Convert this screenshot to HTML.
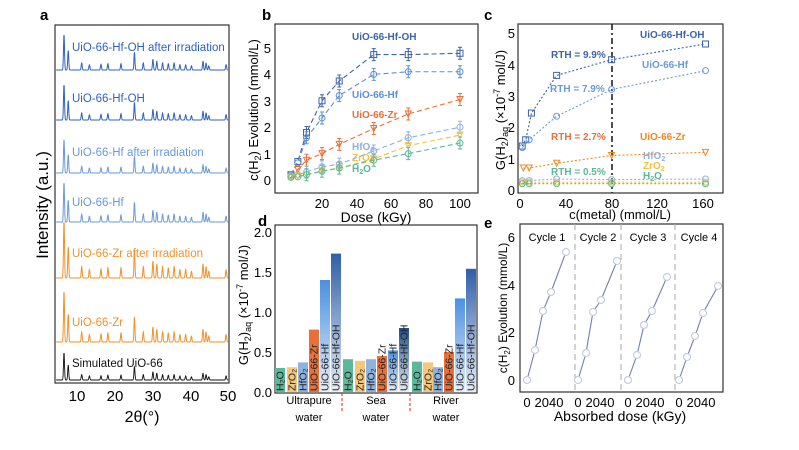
<!DOCTYPE html>
<html><head><meta charset="utf-8"><style>
body{margin:0;background:#fff}
svg{display:block;font-family:"Liberation Sans",Arial,sans-serif}
</style></head><body>
<svg id="s" width="799" height="450" viewBox="0 0 799 450" xmlns="http://www.w3.org/2000/svg">
<rect width="799" height="450" fill="#fff"/>
<g id="a"></g>
<!-- panel a -->
<text x="40" y="20" font-size="15" font-weight="bold">a</text>
<rect x="55" y="25" width="174" height="358" fill="none" stroke="#333" stroke-width="1.2"/>
<g font-size="15" text-anchor="middle"><text x="77" y="401">10</text><text x="115" y="401">20</text><text x="153" y="401">30</text><text x="191" y="401">40</text><text x="228" y="401">50</text></g>
<text x="142" y="422" font-size="16" text-anchor="middle">2θ(°)</text>
<text transform="translate(48,205) rotate(-90)" font-size="17" text-anchor="middle">Intensity (a.u.)</text>
<g font-size="11.5">
<text x="72" y="51" fill="#2f62c0">UiO-66-Hf-OH after irradiation</text>
<text x="72" y="102" fill="#2f62c0">UiO-66-Hf-OH</text>
<text x="72" y="156" fill="#6a9ad8">UiO-66-Hf after irradiation</text>
<text x="72" y="206" fill="#6a9ad8">UiO-66-Hf</text>
<text x="72" y="257" fill="#f0922a">UiO-66-Zr after irradiation</text>
<text x="72" y="326" fill="#f0922a">UiO-66-Zr</text>
<text x="72" y="367" fill="#111">Simulated UiO-66</text>
</g>
<!-- panel b -->
<text x="262" y="20" font-size="15" font-weight="bold">b</text>
<rect x="275" y="24" width="203" height="169" fill="none" stroke="#333" stroke-width="1.2"/>
<g font-size="13" text-anchor="end"><text x="271" y="53">5</text><text x="271" y="79">4</text><text x="271" y="106">3</text><text x="271" y="132">2</text><text x="271" y="159">1</text><text x="271" y="185">0</text></g>
<g font-size="13" text-anchor="middle"><text x="322" y="208">20</text><text x="357" y="208">40</text><text x="391" y="208">60</text><text x="426" y="208">80</text><text x="460" y="208">100</text></g>
<text x="376" y="222" font-size="14" text-anchor="middle">Dose (kGy)</text>
<text transform="translate(258,110) rotate(-90)" font-size="13" text-anchor="middle">c(H<tspan font-size="9" dy="3">2</tspan><tspan dy="-3">) Evolution (mmol/L)</tspan></text>
<g font-size="10" font-weight="bold">
<text x="352" y="40" fill="#3c64a8">UiO-66-Hf-OH</text>
<text x="352" y="98" fill="#5b8fd6">UiO-66-Hf</text>
<text x="352" y="118" fill="#e8703a">UiO-66-Zr</text>
<text x="352" y="150" fill="#8fb0e0">HfO<tspan font-size="7" dy="2">2</tspan></text>
<text x="352" y="161" fill="#f5c040">ZrO<tspan font-size="7" dy="2">2</tspan></text>
<text x="352" y="172" fill="#5cb89a">H<tspan font-size="7" dy="2">2</tspan><tspan dy="-2">O</tspan></text>
</g>
<!-- panel c -->
<text x="484" y="20" font-size="15" font-weight="bold">c</text>
<rect x="518" y="24" width="205" height="169" fill="none" stroke="#333" stroke-width="1.2"/>
<g font-size="13" text-anchor="end"><text x="515" y="38">5</text><text x="515" y="70">4</text><text x="515" y="101">3</text><text x="515" y="132">2</text><text x="515" y="164">1</text><text x="515" y="195">0</text></g>
<g font-size="13" text-anchor="middle"><text x="520" y="208">0</text><text x="566" y="208">40</text><text x="612" y="208">80</text><text x="657" y="208">120</text><text x="703" y="208">160</text></g>
<text x="620" y="219" font-size="13" text-anchor="middle">c(metal) (mmol/L)</text>
<text transform="translate(505,110) rotate(-90)" font-size="13" text-anchor="middle">G(H<tspan font-size="9" dy="3">2</tspan><tspan dy="-3">)</tspan><tspan font-size="9" dy="3">aq</tspan><tspan dy="-3"> (×10</tspan><tspan font-size="9" dy="-5">-7</tspan><tspan dy="5"> mol/J)</tspan></text>
<line x1="612" y1="24" x2="612" y2="193" stroke="#222" stroke-width="1.6" stroke-dasharray="6,3,2,3"/>
<g font-size="10" font-weight="bold">
<text x="640" y="38" fill="#3c64a8">UiO-66-Hf-OH</text>
<text x="551" y="58" fill="#3c64a8">RTH = 9.9%</text>
<text x="642" y="68" fill="#6a9ad8">UiO-66-Hf</text>
<text x="550" y="92" fill="#6a9ad8">RTH = 7.9%</text>
<text x="551" y="140" fill="#e8703a">RTH = 2.7%</text>
<text x="640" y="140" fill="#f08a1a">UiO-66-Zr</text>
<text x="643" y="159" fill="#8fb0e0">HfO<tspan font-size="7" dy="2">2</tspan></text>
<text x="643" y="169" fill="#f5c040">ZrO<tspan font-size="7" dy="2">2</tspan></text>
<text x="643" y="179" fill="#5cb89a">H<tspan font-size="7" dy="2">2</tspan><tspan dy="-2">O</tspan></text>
<text x="551" y="175" fill="#5cb89a">RTH = 0.5%</text>
</g>
<!-- panel d -->
<text x="258" y="226" font-size="15" font-weight="bold">d</text>
<rect x="275" y="225" width="202" height="168" fill="none" stroke="#333" stroke-width="1.2"/>
<g font-size="13" text-anchor="end"><text x="272" y="237">2.0</text><text x="272" y="277">1.5</text><text x="272" y="317">1.0</text><text x="272" y="357">0.5</text><text x="272" y="397">0.0</text></g>
<text transform="translate(248,305) rotate(-90)" font-size="13" text-anchor="middle">G(H<tspan font-size="9" dy="3">2</tspan><tspan dy="-3">)</tspan><tspan font-size="9" dy="3">aq</tspan><tspan dy="-3"> (×10</tspan><tspan font-size="9" dy="-5">-7</tspan><tspan dy="5"> mol/J)</tspan></text>
<g id="bars"></g>
<line x1="342" y1="393" x2="342" y2="411" stroke="#e02020" stroke-dasharray="3,2"/>
<line x1="410" y1="393" x2="410" y2="411" stroke="#e02020" stroke-dasharray="3,2"/>
<g font-size="11" text-anchor="middle"><text x="309" y="404">Ultrapure</text><text x="309" y="421">water</text><text x="376" y="404">Sea</text><text x="376" y="421">water</text><text x="446" y="404">River</text><text x="446" y="421">water</text></g>
<!-- panel e -->
<text x="484" y="228" font-size="15" font-weight="bold">e</text>
<rect x="520" y="224" width="203" height="168" fill="none" stroke="#333" stroke-width="1.2"/>
<g font-size="13" text-anchor="end"><text x="515" y="242">6</text><text x="515" y="290">4</text><text x="515" y="337">2</text><text x="515" y="385">0</text></g>
<g stroke="#aaa" stroke-dasharray="6,4"><line x1="575" y1="224" x2="575" y2="392"/><line x1="621" y1="224" x2="621" y2="392"/><line x1="675" y1="224" x2="675" y2="392"/></g>
<g font-size="11" text-anchor="middle"><text x="547" y="241">Cycle 1</text><text x="598" y="241">Cycle 2</text><text x="648" y="241">Cycle 3</text><text x="699" y="241">Cycle 4</text></g>
<g font-size="13" text-anchor="middle"><text x="527" y="407">0</text><text x="549" y="407">2040</text><text x="578" y="407">0</text><text x="600" y="407">2040</text><text x="628" y="407">0</text><text x="650" y="407">2040</text><text x="679" y="407">0</text><text x="701" y="407">2040</text></g>
<text x="620" y="421" font-size="14" text-anchor="middle">Absorbed dose (kGy)</text>
<text transform="translate(507,308) rotate(-90)" font-size="12" text-anchor="middle">c(H<tspan font-size="8" dy="3">2</tspan><tspan dy="-3">) Evolution (mmol/L)</tspan></text>
<g id="dyn"></g>
</svg>
<script>
var NS="http://www.w3.org/2000/svg";
function el(p,t,a){var e=document.createElementNS(NS,t);for(var k in a)e.setAttribute(k,a[k]);p.appendChild(e);return e;}
var A=document.getElementById('a'),D=document.getElementById('dyn'),B=document.getElementById('bars');
var pk=[[7.4,1],[8.5,.55],[12,.2],[14,.15],[17,.16],[18.8,.18],[22.2,.18],[25.7,.5],[28,.2],[30.5,.3],[31.5,.25],[33,.2],[34.5,.18],[36,.2],[37.5,.15],[39,.15],[40.5,.12],[43.5,.25],[44.3,.2],[45,.12],[49.5,.15]];
function tr(base,amp,col,sw){var d="";for(var v=5.0;v<=50.2;v+=0.04){var y=0;for(var i=0;i<pk.length;i++){var z=(v-pk[i][0])/0.13;y+=pk[i][1]*Math.exp(-z*z/2);}var x=64+(v-7.4)*3.85;if(x<56||x>228)continue;d+=(d?"L":"M")+x.toFixed(1)+","+(base-amp*y).toFixed(1);}el(A,'path',{d:d,fill:'none',stroke:col,'stroke-width':sw||1});}
tr(70,35,'#2f62c0');tr(120,35,'#2f62c0');tr(173,33,'#6a9ad8');tr(222,39,'#6a9ad8');tr(278,56,'#f0922a');tr(342,50,'#f0922a');tr(380,27,'#111',0.9);
function bx(v){return 287.5+v*1.725;}function by(v){return 180-v*26.4;}
var sb=[['#3c64a8','s',[[2,.2],[6,.7],[11,1.8],[20,3],[30,3.75],[50,4.75],[70,4.75],[100,4.8]]],
['#5b8fd6','o',[[2,.2],[6,.65],[11,1.6],[20,2.35],[30,3.2],[50,4],[70,4.1],[100,4.1]]],
['#e8703a','v',[[2,.1],[6,.4],[11,.75],[20,1],[30,1.35],[50,1.95],[70,2.5],[100,3.05]]],
['#8fb0e0','o',[[2,.15],[6,.2],[11,.3],[20,.5],[30,.6],[50,1.1],[70,1.6],[100,2]]],
['#f5c040','v',[[2,.1],[6,.15],[11,.2],[20,.35],[30,.45],[50,.8],[70,1.3],[100,1.7]]],
['#5cb89a','o',[[2,.1],[6,.12],[11,.2],[20,.33],[30,.45],[50,.75],[70,1],[100,1.4]]]];
function mk(g,t,x,y,c,r){r=r||3;if(t=='s')el(g,'rect',{x:x-r,y:y-r,width:2*r,height:2*r,fill:'none',stroke:c});else if(t=='v')el(g,'path',{d:'M'+(x-r)+','+(y-r)+'L'+(x+r)+','+(y-r)+'L'+x+','+(y+r)+'Z',fill:'none',stroke:c});else el(g,'circle',{cx:x,cy:y,r:r,fill:'none',stroke:c});}
sb.forEach(function(s){var d="";s[2].forEach(function(p,i){d+=(i?"L":"M")+bx(p[0])+","+by(p[1]);});el(D,'path',{d:d,fill:'none',stroke:s[0],'stroke-dasharray':'5,3','stroke-width':1.1});
s[2].forEach(function(p){var x=bx(p[0]),y=by(p[1]);if(p[0]>=11&&s[0]!='#f5c040'){el(D,'path',{d:'M'+x+','+(y-6)+'V'+(y+6)+'M'+(x-2)+','+(y-6)+'h4M'+(x-2)+','+(y+6)+'h4',stroke:s[0],fill:'none'});}mk(D,s[1],x,y,s[0]);});});
function cx(v){return 520+v*1.145;}function cy(v){return 190-v*31.4;}
var sc=[['#3c64a8','s',[[2,1.4],[5,1.6],[10,2.45],[32,3.65],[80,4.15],[162,4.65]]],
['#6a9ad8','o',[[2,1.35],[8,1.6],[32,2.35],[80,3.2],[162,3.8]]],
['#f08a1a','v',[[3,.7],[8,.7],[32,.85],[80,1.1],[162,1.2]]],
['#8fb0e0','o',[[2,.3],[8,.3],[32,.35],[80,.33],[162,.35]]],
['#f5c040','o',[[2,.25],[8,.25],[32,.25],[80,.25],[162,.25]]],
['#5cb89a','o',[[2,.2],[8,.2],[32,.2],[80,.2],[162,.2]]]];
sc.forEach(function(s){var d="";s[2].forEach(function(p,i){d+=(i?"L":"M")+cx(p[0]).toFixed(1)+","+cy(p[1]).toFixed(1);});el(D,'path',{d:d,fill:'none',stroke:s[0],'stroke-dasharray':'2,2','stroke-width':1.1});s[2].forEach(function(p){mk(D,s[1],cx(p[0]),cy(p[1]),s[0]);});});
var defs=el(document.getElementById('s'),'defs',{});
var cols={h:'#5cb89a',z:'#f5c77a',f:'#8fb3e0',r:'#e8703a',hf:'#4a90e2',ho:'#2f5fa8',hs:'#1f4f8a'};
for(var k in cols){var lg=el(defs,'linearGradient',{id:'g'+k,x1:0,y1:0,x2:0,y2:1});el(lg,'stop',{offset:'0','stop-color':cols[k]});el(lg,'stop',{offset:'1','stop-color':(k=='r'||k=='h'||k=='z'||k=='f')?cols[k]:'#e6eef8'});}
var bars=[[275,.30,'h','H₂O'],[287,.31,'z','ZrO₂'],[298,.37,'f','HfO₂'],[309,.78,'r','UiO-66-Zr'],[320,1.40,'hf','UiO-66-Hf'],[331,1.73,'ho','UiO-66-Hf-OH'],
[343,.41,'h','H₂O'],[355,.39,'z','ZrO₂'],[366,.41,'f','HfO₂'],[377,.45,'r','UiO-66-Zr'],[388,.52,'hf','UiO-66-Hf'],[399,.80,'hs','UiO-66-Hf-OH'],
[412,.38,'h','H₂O'],[423,.37,'z','ZrO₂'],[433,.31,'f','HfO₂'],[444,.50,'r','UiO-66-Zr'],[455,1.17,'hf','UiO-66-Hf'],[466,1.54,'ho','UiO-66-Hf-OH']];
bars.forEach(function(b){var h=b[1]*80;el(B,'rect',{x:b[0],y:392-h,width:10,height:h,fill:'url(#g'+b[2]+')'});var t=el(B,'text',{transform:'translate('+(b[0]+8.5)+',391) rotate(-90)','font-size':'10.5',fill:'#222'});t.textContent=b[3];});
var ec=[[[527,380],[535,350],[543,311],[551,292],[566,252]],[[578,380],[586,353],[593,312],[601,300],[617,261]],[[628,380],[637,355],[644,325],[652,311],[667,277]],[[679,380],[687,357],[695,336],[703,313],[718,286]]];
ec.forEach(function(c){var d="";c.forEach(function(p,i){d+=(i?"L":"M")+p[0]+","+p[1];});el(D,'path',{d:d,fill:'none',stroke:'#7080b0','stroke-width':1.1});c.forEach(function(p){el(D,'circle',{cx:p[0],cy:p[1],r:3.5,fill:'#fff',stroke:'#c8cce0','stroke-width':1.2});});});
</script>
</body></html>
